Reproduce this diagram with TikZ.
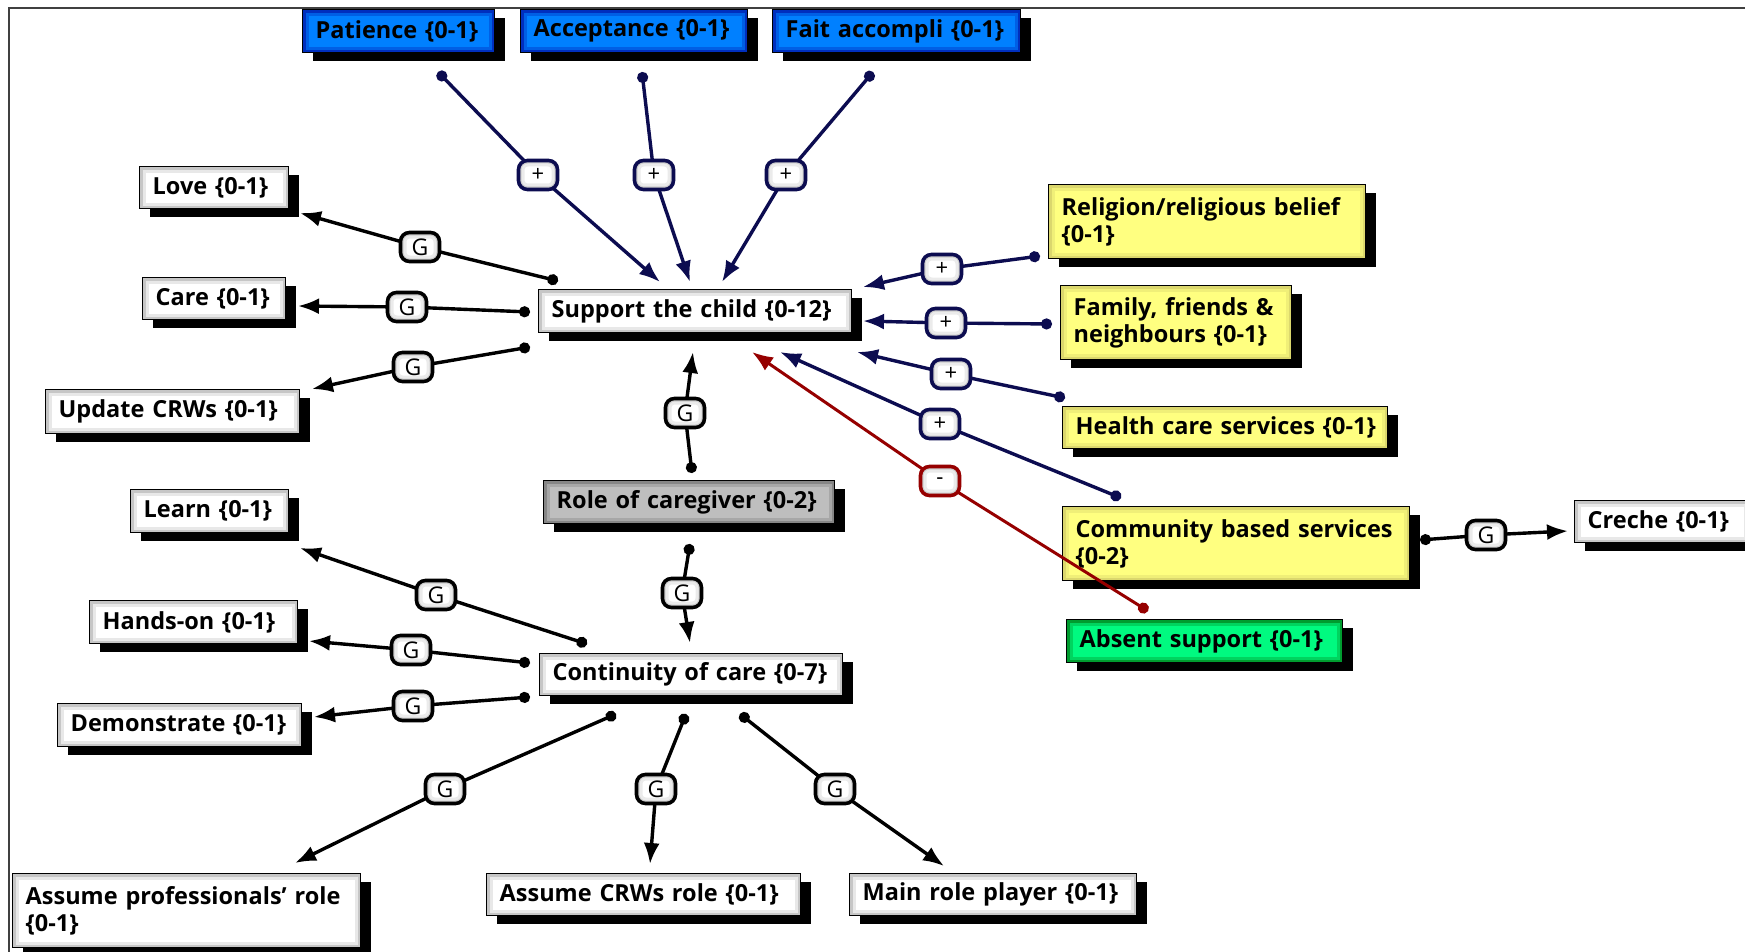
\documentclass[tikz,border=0pt]{standalone}
\usepackage{fontspec}
\setmainfont{Open Sans}
\usetikzlibrary{arrows.meta,shadows}
\definecolor{navy}{RGB}{12,12,80}
\definecolor{dred}{RGB}{150,0,0}
\definecolor{bluefill}{RGB}{0,128,255}
\definecolor{yelfill}{RGB}{255,255,128}
\definecolor{grnfill}{RGB}{0,250,128}
\definecolor{grayfill}{RGB}{190,190,190}
\tikzset{
  ring/.style={path picture={
    \draw[#1,line width=12pt,opacity=0.25] (path picture bounding box.south west) rectangle (path picture bounding box.north east);
    \draw[#1,line width=6pt,opacity=0.5] (path picture bounding box.south west) rectangle (path picture bounding box.north east);}},
  box/.style={draw=black, line width=1.4pt, anchor=north west, inner xsep=13pt, inner ysep=0pt,
    align=left, font=\fontsize{23.5}{27}\selectfont\bfseries,
    general shadow={fill=black, shadow xshift=10pt, shadow yshift=-8pt}},
  wbox/.style={box, fill=white, ring=gray!70},
  bbox/.style={box, fill=bluefill, ring=blue!60!black},
  ybox/.style={box, fill=yelfill, ring=olive!50},
  gbox/.style={box, fill=grnfill, ring=green!40!black},
  rbox/.style={box, fill=grayfill, ring=black!60},
  lab/.style={draw=black, line width=3.6pt, rounded corners=9pt, fill=white, ring=gray!60,
    minimum width=39pt, minimum height=29pt, inner sep=0pt, font=\fontsize{23}{23}\selectfont},
  plab/.style={lab, draw=navy, font=\fontsize{22}{22}\selectfont},
  mlab/.style={lab, draw=dred, font=\fontsize{22}{22}\selectfont},
  gconn/.style={line width=3.4pt, draw=black, {Circle[length=11pt]}-{Latex[length=21pt,width=16pt]}},
  pconn/.style={gconn, draw=navy},
  mconn/.style={gconn, line width=3pt, draw=dred}
}
\begin{document}
\begin{tikzpicture}[x=1pt,y=-1pt]
\useasboundingbox (0,0) rectangle (1745,952);
\fill[white] (0,0) rectangle (1745,952);
\draw[line width=2pt, black!75] (9,952) -- (9,8) -- (1745,8);

% boxes
\node[bbox, text width=166pt, minimum height=43pt] (patience) at (302,9) {\mbox{Patience \{0-1\}}};
\node[bbox, text width=201pt, minimum height=43pt] (accept) at (520,9) {\mbox{Acceptance \{0-1\}}};
\node[bbox, text width=222pt, minimum height=43pt] (fait) at (772,9) {\mbox{Fait accompli \{0-1\}}};
\node[wbox, text width=123pt, minimum height=42pt] (love) at (139,166) {\mbox{Love \{0-1\}}};
\node[wbox, text width=117pt, minimum height=42pt] (care) at (142,277) {\mbox{Care \{0-1\}}};
\node[wbox, text width=228pt, minimum height=44pt] (update) at (45,389) {\mbox{Update CRWs \{0-1\}}};
\node[wbox, text width=287pt, minimum height=43pt] (support) at (538,289) {\mbox{Support the child \{0-12\}}};
\node[rbox, text width=265pt, minimum height=43pt] (role) at (543,480) {\mbox{Role of caregiver \{0-2\}}};
\node[ybox, text width=291pt, minimum height=74pt] (religion) at (1048,184) {\mbox{Religion/religious belief}\\\mbox{\{0-1\}}};
\node[ybox, text width=205pt, minimum height=74pt] (family) at (1060,285) {\mbox{Family, friends \&}\\\mbox{neighbours \{0-1\}}};
\node[ybox, text width=299pt, minimum height=42pt] (health) at (1062,406) {\mbox{Health care services \{0-1\}}};
\node[ybox, text width=321pt, minimum height=74pt] (community) at (1062,506) {\mbox{Community based services}\\\mbox{\{0-2\}}};
\node[wbox, text width=149pt, minimum height=42pt] (creche) at (1574,500) {\mbox{Creche \{0-1\}}};
\node[gbox, text width=250pt, minimum height=43pt] (absent) at (1066,619) {\mbox{Absent support \{0-1\}}};
\node[wbox, text width=132pt, minimum height=43pt] (learn) at (130,489) {\mbox{Learn \{0-1\}}};
\node[wbox, text width=182pt, minimum height=43pt] (handson) at (89,600) {\mbox{Hands-on \{0-1\}}};
\node[wbox, text width=218pt, minimum height=43pt] (demo) at (57,703) {\mbox{Demonstrate \{0-1\}}};
\node[wbox, text width=277pt, minimum height=42pt] (continuity) at (539,653) {\mbox{Continuity of care \{0-7\}}};
\node[wbox, text width=322pt, minimum height=74pt] (aprof) at (12,873) {\mbox{Assume professionals’ role}\\\mbox{\{0-1\}}};
\node[wbox, text width=288pt, minimum height=42pt] (acrw) at (486,873) {\mbox{Assume CRWs role \{0-1\}}};
\node[wbox, text width=261pt, minimum height=42pt] (mainrole) at (849,873) {\mbox{Main role player \{0-1\}}};

% connector end points
\coordinate (d1) at (438,72);  \coordinate (l1) at (538,175); \coordinate (t1) at (660,282);
\coordinate (d2) at (642,72);  \coordinate (l2) at (654,175); \coordinate (t2) at (690,282);
\coordinate (d3) at (873,72);  \coordinate (l3) at (786,175); \coordinate (t3) at (722,282);
\coordinate (d4) at (558,281); \coordinate (l4) at (420,247); \coordinate (t4) at (300,213);
\coordinate (d5) at (530,312); \coordinate (l5) at (407,307); \coordinate (t5) at (298,306);
\coordinate (d6) at (530,347); \coordinate (l6) at (413,367); \coordinate (t6) at (312,389);
\coordinate (d7) at (1040,256); \coordinate (l7) at (942,269); \coordinate (t7) at (863,287);
\coordinate (d8) at (1052,324); \coordinate (l8) at (946,323); \coordinate (t8) at (863,321);
\coordinate (d9) at (1065,398); \coordinate (l9) at (951,374); \coordinate (t9) at (857,352);
\coordinate (d10) at (1121,498); \coordinate (l10) at (940,424); \coordinate (t10) at (780,352);
\coordinate (d11) at (1148,611); \coordinate (l11) at (940,481); \coordinate (t11) at (752,352);
\coordinate (d12) at (692,473); \coordinate (l12) at (685,413); \coordinate (t12) at (693,352);
\coordinate (d13) at (690,544); \coordinate (l13) at (682,593); \coordinate (t13) at (690,643);
\coordinate (d14) at (587,644); \coordinate (l14) at (436,595); \coordinate (t14) at (300,548);
\coordinate (d15) at (530,663); \coordinate (l15) at (411,650); \coordinate (t15) at (309,641);
\coordinate (d16) at (530,697); \coordinate (l16) at (413,706); \coordinate (t16) at (314,717);
\coordinate (d17) at (616,714); \coordinate (l17) at (445,789); \coordinate (t17) at (295,863);
\coordinate (d18) at (686,714); \coordinate (l18) at (656,789); \coordinate (t18) at (650,864);
\coordinate (d19) at (740,714); \coordinate (l19) at (835,789); \coordinate (t19) at (944,866);
\coordinate (d20) at (1420,540); \coordinate (l20) at (1486,535); \coordinate (t20) at (1568,531);

% connectors
\foreach \i in {1,2,3,7,8,9,10} {\draw[pconn] (d\i) -- (l\i) -- (t\i);}
\foreach \i in {4,5,6,12,13,14,15,16,17,18,19,20} {\draw[gconn] (d\i) -- (l\i) -- (t\i);}
\draw[mconn] (d11) -- (l11) -- (t11);

% labels
\foreach \i in {1,2,3,7,8,9,10} {\node[plab] (L\i) at (l\i) {+};}
\foreach \i in {4,5,6,12,13,14,15,16,17,18,19,20} {\node[lab] (L\i) at (l\i) {G};}
\node[mlab] (L11) at (l11) {-};
\end{tikzpicture}
\end{document}
